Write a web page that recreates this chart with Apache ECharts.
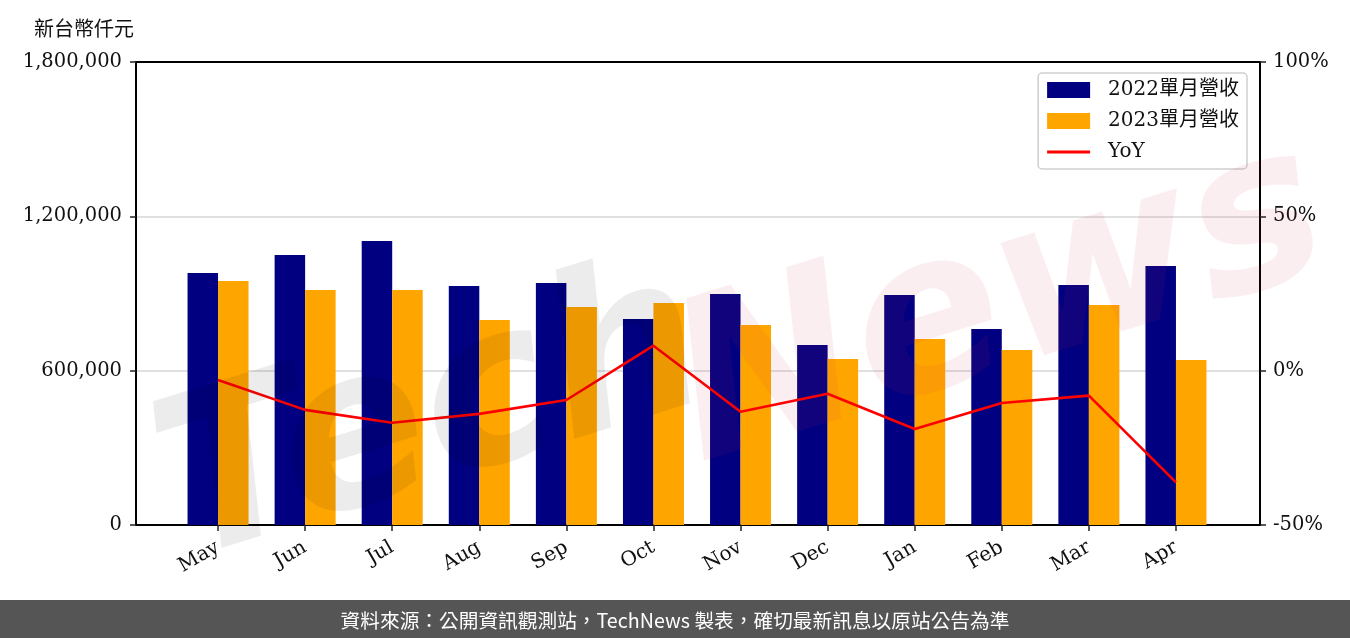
<!DOCTYPE html>
<html>
<head>
<meta charset="utf-8">
<script src="https://cdn.jsdelivr.net/npm/echarts@6/dist/echarts.min.js"></script>
<style>html,body{margin:0;padding:0;background:#fff}#c{width:1350px;height:638px}</style>
</head>
<body>
<div id="c"></div>
<script>
const categories = ['May','Jun','Jul','Aug','Sep','Oct','Nov','Dec','Jan','Feb','Mar','Apr'];
const rev2022 = [979700,1049700,1104100,929200,940800,800900,898100,699800,894200,762000,933100,1006900];
const rev2023 = [948600,913600,913600,797000,847500,863100,777500,645400,723100,680400,855300,641500];
const yoy = [-3.0,-12.7,-16.9,-14.0,-9.5,8.1,-13.3,-7.5,-18.9,-10.5,-8.1,-36.2];
const leftTicks = [0,600000,1200000,1800000];
const rightTicks = [-50,0,50,100];
const seriesNames = ['2022單月營收','2023單月營收','YoY'];

const SERIF = '"DejaVu Serif","Noto Sans CJK TC",serif';
const chart = echarts.init(document.getElementById('c'), null, {renderer:'canvas'});
const fmtNum = v => v.toLocaleString('en-US');
const spine = {show:true,onZero:false,lineStyle:{color:'#000',width:2}};
chart.setOption({
  animation:false,
  backgroundColor:'#fff',
  textStyle:{fontFamily:SERIF},
  title:{text:'新台幣仟元',left:29,top:13,textStyle:{fontFamily:'"Noto Sans CJK TC",sans-serif',fontWeight:'normal',fontSize:20,color:'#111'}},
  grid:[
    {left:136,right:90,top:62,bottom:113,containLabel:false},
    {left:174.5,right:130.5,top:62,bottom:113,containLabel:false}
  ],
  legend:{
    orient:'vertical',right:103,top:73,
    backgroundColor:'#fff',borderColor:'#d0d0d0',borderWidth:1.5,borderRadius:4,
    padding:[7,8,7,9],itemWidth:43,itemHeight:16,itemGap:11,
    textStyle:{fontFamily:SERIF,fontSize:20,color:'#111',padding:[0,0,0,13],lineHeight:20},
    data:[
      {name:seriesNames[0],icon:'rect'},
      {name:seriesNames[1],icon:'rect'},
      {name:seriesNames[2],icon:'path://M0,0L43,0L43,0.01Z M0,6.5L43,6.5L43,9.5L0,9.5Z M0,16L43,16L43,16.01Z'}
    ]
  },
  xAxis:[
    {gridIndex:0,type:'value',min:0,max:1,position:'bottom',axisLine:spine,axisTick:{show:false},axisLabel:{show:false},splitLine:{show:false}},
    {gridIndex:0,type:'value',min:0,max:1,position:'top',axisLine:spine,axisTick:{show:false},axisLabel:{show:false},splitLine:{show:false}},
    {gridIndex:1,type:'category',data:categories,boundaryGap:true,position:'bottom',
     axisLine:{show:false,onZero:false},axisTick:{show:true,alignWithLabel:true,length:6,lineStyle:{color:'#222',width:1.5}},
     axisLabel:{rotate:30,fontFamily:SERIF,fontSize:20,color:'#111',margin:21}}
  ],
  yAxis:[
    {gridIndex:0,type:'value',min:0,max:1800000,interval:600000,position:'left',
     axisLine:spine,axisTick:{show:true,length:6,lineStyle:{color:'#222',width:1.5}},
     axisLabel:{formatter:fmtNum,fontFamily:SERIF,fontSize:19.5,color:'#111',margin:14},
     splitLine:{show:true,lineStyle:{color:'#d6d6d6',width:1.5}}},
    {gridIndex:0,type:'value',min:-50,max:100,interval:50,position:'right',
     axisLine:spine,axisTick:{show:true,length:6,lineStyle:{color:'#222',width:1.5}},
     axisLabel:{formatter:'{value}%',fontFamily:SERIF,fontSize:19.5,color:'#111',margin:13},
     splitLine:{show:false}},
    {gridIndex:1,type:'value',min:0,max:1800000,show:false,splitLine:{show:false}},
    {gridIndex:1,type:'value',min:-50,max:100,show:false,splitLine:{show:false}}
  ],
  series:[
    {name:seriesNames[0],type:'bar',xAxisIndex:2,yAxisIndex:2,data:rev2022,barWidth:30.5,barGap:'0%',itemStyle:{color:'#000080'},z:2},
    {name:seriesNames[1],type:'bar',xAxisIndex:2,yAxisIndex:2,data:rev2023,barWidth:30.5,barGap:'0%',itemStyle:{color:'#FFA500'},z:2},
    {name:seriesNames[2],type:'line',xAxisIndex:2,yAxisIndex:3,data:yoy,symbol:'none',lineStyle:{color:'#FF0000',width:2.6},itemStyle:{color:'#FF0000'},z:3}
  ],
  graphic:[
    {type:'text',left:135,top:235,rotation:0.3,z:5,silent:true,
     style:{text:'Tech',fontSize:220,fontStyle:'italic',fontWeight:'bold',fontFamily:'"DejaVu Sans",sans-serif',fill:'rgba(0,0,0,0.075)'}},
    {type:'text',left:650,top:105,rotation:0.3,z:5,silent:true,
     style:{text:'News',fontSize:220,fontStyle:'italic',fontWeight:'bold',fontFamily:'"DejaVu Sans",sans-serif',fill:'rgba(210,40,60,0.08)'}},
    {type:'rect',left:0,bottom:0,z:10,shape:{width:1350,height:38},style:{fill:'#555555'}},
    {type:'text',left:'center',bottom:8,z:11,style:{text:'資料來源：公開資訊觀測站，TechNews 製表，確切最新訊息以原站公告為準',fontSize:19.7,fontFamily:'"Noto Sans CJK TC",sans-serif',fill:'#fff'}}
  ]
});
</script>
</body>
</html>
